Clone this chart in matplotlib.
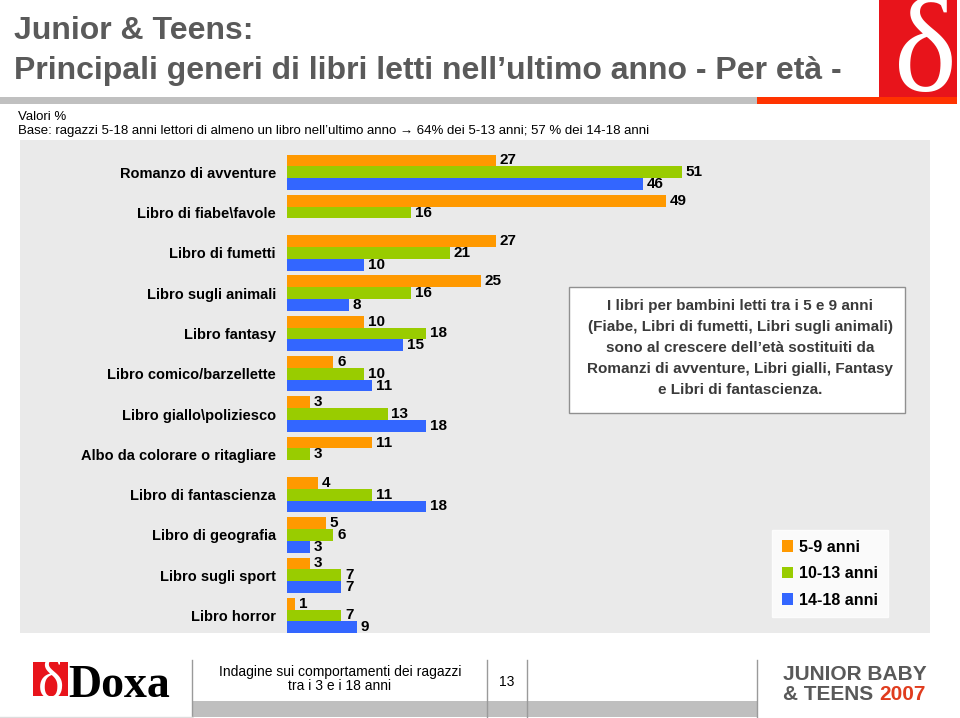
import numpy as np
import matplotlib
matplotlib.use("Agg")
import matplotlib.pyplot as plt
from matplotlib.patches import Rectangle

categories = ["Romanzo di avventure", "Libro di fiabe\\favole", "Libro di fumetti",
              "Libro sugli animali", "Libro fantasy", "Libro comico/barzellette",
              "Libro giallo\\poliziesco", "Albo da colorare o ritagliare",
              "Libro di fantascienza", "Libro di geografia", "Libro sugli sport",
              "Libro horror"]
age_5_9 = [27, 49, 27, 25, 10, 6, 3, 11, 4, 5, 3, 1]
age_10_13 = [51, 16, 21, 16, 18, 10, 13, 3, 11, 6, 7, 7]
age_14_18 = [46, None, 10, 8, 15, 11, 18, None, 18, 3, 7, 9]
series_names = ["5-9 anni", "10-13 anni", "14-18 anni"]
colors = ["#FF9900", "#99CC00", "#3366FF"]

note = ("I libri per bambini letti tra i 5 e 9 anni\n"
        "(Fiabe, Libri di fumetti, Libri sugli animali)\n"
        "sono al crescere dell\u2019et\u00e0 sostituiti da\n"
        "Romanzi di avventure, Libri gialli, Fantasy\n"
        "e Libri di fantascienza.")

W, H = 960, 718
SANS = ["Liberation Sans", "DejaVu Sans"]
SERIF = ["Liberation Serif", "DejaVu Serif"]
plt.rcParams["font.family"] = SANS


def fx(x):
    return x / W


def fy(y):
    return 1 - y / H


def rect(x0, y0, x1, y1, **kw):
    r = Rectangle((fx(x0), fy(y1)), (x1 - x0) / W, (y1 - y0) / H,
                  transform=fig.transFigure, **kw)
    fig.patches.append(r)
    return r


fig = plt.figure(figsize=(9.6, 7.18), dpi=100, facecolor="white")

# header
fig.text(fx(14), fy(31), "Junior & Teens:", weight="bold",
         fontsize=23, color="#5a5a5a", va="center")
fig.text(fx(14), fy(71), "Principali generi di libri letti nell\u2019ultimo anno - Per et\u00e0 -",
         weight="bold", fontsize=23, color="#5a5a5a", va="center")
rect(0, 97, 757, 104, color="#c0c0c0", lw=0)
rect(757, 97, 957, 104, color="#ff3300", lw=0)
logo = rect(879, 0, 957, 97, color="#e8141b", lw=0)
d = fig.text(fx(925), fy(58), "\u03b4", family=SERIF,
             fontsize=96, color="white", ha="center", va="center")
d.set_clip_path(logo)

fig.text(fx(18), fy(117), "Valori %", fontsize=9.5, va="center")
fig.text(fx(18), fy(131), "Base: ragazzi 5-18 anni lettori di almeno un libro nell\u2019ultimo anno "
         "\u2192 64% dei 5-13 anni; 57 % dei 14-18 anni", fontsize=9.5, va="center")

# chart panel
rect(20, 140, 930, 633, color="#eaeaea", lw=0, zorder=-5)
ax = fig.add_axes([fx(287), fy(633), (930 - 287) / W, (633 - 140) / H])
ax.set_facecolor("none")
y = np.arange(len(categories))
h = 0.293
for k, (vals, col, name) in enumerate(zip([age_5_9, age_10_13, age_14_18], colors, series_names)):
    v = np.array([np.nan if a is None else a for a in vals], dtype=float)
    ax.barh(y + (k - 1) * h, v, height=h, color=col, label=name)
    for yi, val in zip(y, v):
        if not np.isnan(val):
            ax.text(val + 0.5, yi + (k - 1) * h, f"{val:.0f}", va="center", ha="left",
                    fontsize=11, weight="bold")
ax.set_xlim(0, 643 / 7.74)
ax.set_ylim(11 + 17.5 / 40.29, -32.3 / 40.29)
ax.set_yticks(y)
ax.set_yticklabels(categories, fontsize=10.5, weight="bold")
ax.tick_params(axis="y", length=0, pad=8)
ax.set_xticks([])
for s in ax.spines.values():
    s.set_visible(False)

# note box
rect(569, 287, 905, 413, facecolor="white", edgecolor="#909090", lw=1, zorder=3)
fig.text(fx(740), fy(348), note, ha="center", va="center", fontsize=11,
         weight="bold", color="#3a3a3a", linespacing=1.62, zorder=4)

# legend
leg = ax.legend(loc="upper left", bbox_to_anchor=(fx(772), fy(530)),
                bbox_transform=fig.transFigure, frameon=True, fancybox=False,
                borderaxespad=0, handlelength=0.7, handleheight=0.7, handletextpad=0.4,
                labelspacing=0.72, borderpad=0.6, prop={"size": 11.5, "weight": "bold"})
leg.get_frame().set_facecolor("white")
leg.get_frame().set_edgecolor("white")

# footer
rect(192, 701, 757, 717, color="#bfbfbf", lw=0)
for xv in (192, 487, 527, 757):
    fig.add_artist(plt.Line2D([fx(xv), fx(xv)], [fy(660), fy(717)],
                              transform=fig.transFigure, color="#9a9a9a", lw=1))
fig.add_artist(plt.Line2D([0, fx(192)], [fy(717), fy(717)], transform=fig.transFigure,
                          color="#dddddd", lw=1))
dl = rect(33, 662, 68, 696, color="#e8141b", lw=0)
t = fig.text(fx(51), fy(683), "\u03b4", family=SERIF,
             fontsize=40, color="white", ha="center", va="center")
t.set_clip_path(dl)
fig.text(fx(68), fy(697), "Doxa", family=SERIF, weight="bold", fontsize=33, va="baseline")
fig.text(fx(340), fy(672), "Indagine sui comportamenti dei ragazzi",
         fontsize=10, ha="center", va="center")
fig.text(fx(340), fy(686), "tra i 3 e i 18 anni", fontsize=10, ha="center", va="center")
fig.text(fx(507), fy(682), "13", fontsize=10, ha="center", va="center")
fig.text(fx(783), fy(674), "JUNIOR BABY", weight="bold", fontsize=15, color="#595959",
         va="center")
teens = fig.text(fx(783), fy(694), "& TEENS", weight="bold", fontsize=15, color="#595959",
                 va="center")
ax.annotate("2007", xy=(1, 0.5), xycoords=teens, xytext=(4, 0), textcoords="offset points",
            ha="left", va="center", weight="bold", fontsize=15, color="#e03c1e",
            annotation_clip=False)

fig.savefig("out.png", dpi=100, facecolor="white")
